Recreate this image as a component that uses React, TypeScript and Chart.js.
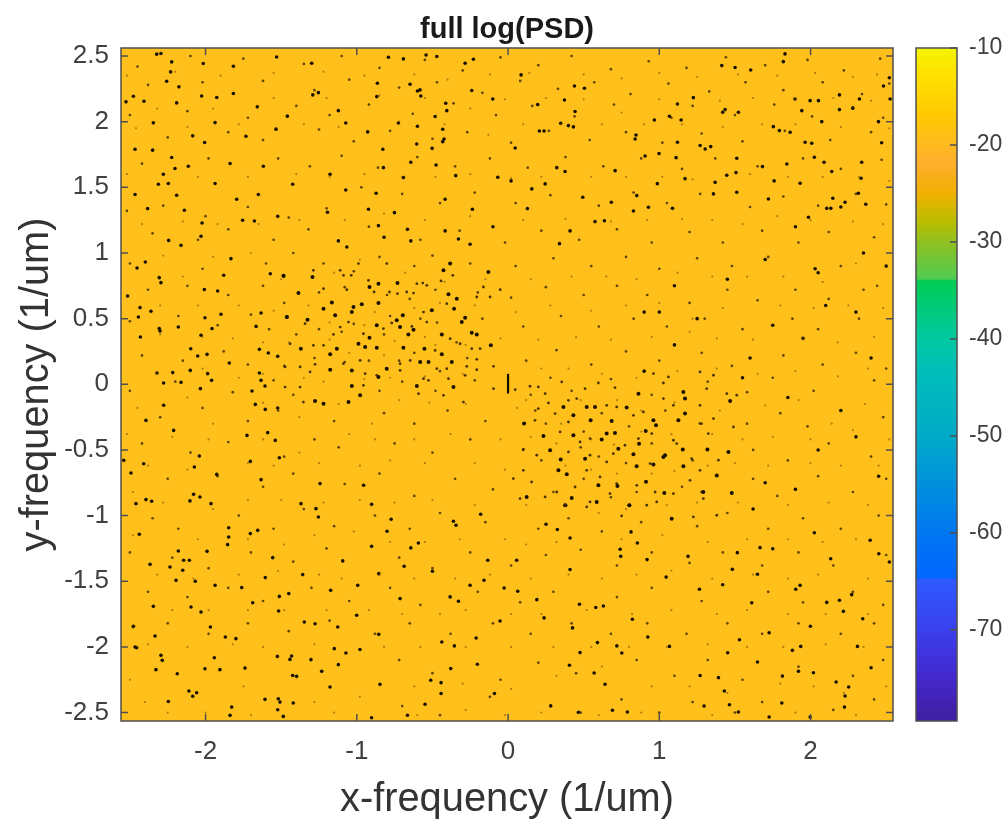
import React, { useEffect, useRef } from "react";
import { Chart, registerables } from "chart.js";

Chart.register(...registerables);

const xTickValues = [-2, -1, 0, 1, 2];
const yTickValues = [-2.5, -2, -1.5, -1, -0.5, 0, 0.5, 1, 1.5, 2, 2.5];
const colorbarTicks = [-70, -60, -50, -40, -30, -20, -10];
const colorbarRange = [-79.4, -10];
const centerBar = [[0, -0.07], [0, 0.08]];

// value, colour stops of the colour bar
const colorStopValues = [-10, -13, -17, -20, -22, -25, -28, -30, -33.8, -34, -40, -43, -50, -55, -60, -64.6, -64.8, -70, -75, -79.4];
const colorStopColors = ["#f5f500", "#ffe000", "#ffc800", "#ffba20", "#ffae2c", "#f0b000", "#b8be00", "#90c020", "#50cc50", "#00cc55", "#00c8a0", "#00beb8", "#00aac8", "#0090dc", "#0076f0", "#0066ff", "#2f5aff", "#3a40ee", "#4428cc", "#3f1fa0"];

const darkLeftCluster = [[-1.165,.622],[-1.033,.551],[-1.022,.589],[-.967,.609],[-.857,.619],[-.731,.771],[-.916,.741],[-.857,.766],[-1.293,.817],[-1.485,.827],[-1.386,.695],[-1.463,.512],[-1.326,.492],[-1.22,.576],[-1.143,.525],[-1.176,.228],[-1.37,.271],[-1.132,.271],[-1.176,.111],[-1.033,.106],[-.989,.309],[-.916,.355],[-.945,.284],[-.868,.449],[-.736,.487],[-.696,.525],[-.625,.416],[-.659,.38],[-.714,.436],[-.692,.279],[-.868,.279],[-.802,.119],[-.857,.055],[-.553,.271],[-.581,.17],[-.526,.17],[-.438,.38],[-.438,.228],[-.372,.17],[-.306,.474],[-.284,.507],[-.357,.576],[-.504,.563],[-.394,.685],[-.339,.652],[-.427,.868],[-.383,.919],[-.13,.855],[-.24,.393],[-.207,.38],[-.114,.297],[-.361,-.02],[-.603,-.013],[-1.033,-.013],[-1.22,-.148],[-1.276,-.127],[-.978,-.084],[-1.055,-.135]];

const darkRightCluster = [[1.17,-.109],[1.159,-.058],[1.17,-.223],[1.126,-.274],[.961,-.274],[.91,-.355],[.978,-.312],[.685,-.279],[.784,-.177],[.862,-.071],[.619,-.421],[.729,-.49],[.866,-.452],[.546,-.274],[.432,-.236],[.432,-.388],[.278,-.502],[.348,-.573],[.234,-.393],[.106,-.299],[.366,-.172],[.52,-.172],[.575,-.172],[1.038,-.54],[1.159,-.624],[1.155,-.497],[1.318,-.497],[1.457,-.515],[1.468,-.127],[.377,-.921],[.421,-.865],[.802,-.921],[1.082,-1.023],[1.033,-.827],[.912,-.743],[.723,-.774],[.597,-.769],[.123,-.858],[1.38,-.695],[.586,-.896],[1.291,-.82],[1.479,-.827],[1.027,-.553],[.333,-.655],[.388,-.685],[.652,-.375],[.707,-.37],[.509,-.566],[.829,-.533],[.85,-.624],[.961,-.611]];

const midLeftCluster = [[-1.11,.868],[-1.088,.83],[-1.037,.83],[-1.287,.868],[-1.22,.728],[-1.066,.72],[-.989,.919],[-.923,.792],[-.802,.919],[-.603,.766],[-.564,.771],[-.67,.703],[-.625,.695],[-.731,.69],[-.784,.703],[-.886,.703],[-.537,.754],[-.443,.787],[-.365,.83],[-.163,.741],[-.052,.72],[-.207,.665],[-.119,.665],[-.405,.614],[-.559,.55],[-.537,.474],[-.636,.441],[-.769,.467],[-.824,.424],[-.956,.385],[-1.055,.474],[-1.11,.436],[-1.154,.38],[-1.22,.297],[-1.287,.297],[-1.342,.462],[-1.441,.309],[-1.474,.132],[-1.375,.132],[-1.309,.094],[-1.276,.152],[-1.088,.157],[-.978,.182],[-.945,.081],[-.868,.068],[-.714,.106],[-.647,.182],[-.714,.157],[-.482,.258],[-.383,.347],[-.317,.309],[-.24,.271],[-.185,.271],[-.207,.19],[-.273,.137],[-.207,.111],[-.096,.137],[-.394,.043],[-.284,.068],[-.471,.119],[-.405,.119],[-.526,.03],[-.559,.043],[-.956,-.008],[-1.375,-.021],[-1.474,-.021],[-1.353,-.135],[-.592,-.071],[-.427,-.084],[-.295,-.135],[-.096,-.033],[.047,-.041]];

const midRightCluster = [[.145,-.015],[.2,-.02],[.245,-.071],[.355,.018],[.509,-.033],[.597,.01],[.707,-.025],[1.027,.01],[1.06,.056],[.961,.082],[1.269,.094],[1.358,.069],[1.446,-.071],[1.512,-.083],[1.313,-.033],[1.269,-.16],[1.093,-.16],[1.027,-.109],[.895,-.21],[.829,-.236],[.718,-.172],[.652,-.16],[.454,-.109],[.399,-.122],[.267,-.142],[.2,-.185],[.178,-.274],[.311,-.223],[.399,-.287],[.344,-.363],[.542,-.413],[.476,-.439],[.399,-.515],[.542,-.54],[.652,-.591],[.608,-.705],[.52,-.655],[.443,-.782],[.322,-.82],[.245,-.858],[.079,-.87],[.035,-.718],[.101,-.655],[.156,-.744],[.19,-.54],[.101,-.495],[.718,-.756],[.851,-.769],[.972,-.82],[1.093,-.832],[1.203,-.731],[1.269,-.655],[1.391,-.578],[1.269,-.299],[1.358,-.261],[1.49,-.325],[1.324,-.375],[1.093,-.426],[.95,-.375],[.862,-.413],[.773,-.464],[.696,-.528],[.939,-.604],[1.115,-.451],[1.214,-.566],[.542,-.896],[.52,-.934],[.674,-.832],[.917,-.921],[.983,-.896],[1.28,-.82],[1.291,-.87],[1.225,-1.01],[1.38,-.997],[.751,-1.002]];

const darkUpperLeft = [[-1.53,2.493],[-2.407,2.156],[-1.816,2.214],[-2.026,2.196],[-1.658,2.113],[-1.926,2.184],[-2.176,2.265],[-2.257,2.308],[-2.231,2.379],[-2.224,2.455],[-2.323,2.514],[-2.295,2.519],[-1.816,2.422],[-2.015,2.443],[-2.466,1.79],[-2.35,1.783],[-2.224,1.727],[-1.733,1.889],[-1.937,1.993],[-1.534,1.943],[-1.459,2.042],[-2.006,1.841],[-2.526,2.151],[-2.477,2.194],[-2.191,2.143],[-2.345,1.991],[-2.085,1.892],[-2.279,1.6],[-2.246,1.529],[-1.937,1.529],[-1.651,1.445],[-1.424,1.524],[-2.114,1.661],[-2.202,1.643],[-1.838,1.681],[-1.618,1.661],[-2.312,1.524],[-2.466,1.445],[-1.794,1.409],[-2.191,1.44]];

const darkUpperRight = [[1.831,2.516],[1.82,2.457],[1.413,2.427],[1.501,2.412],[1.604,2.394],[1.225,2.183],[1.12,2.135],[1.523,2.072],[1.435,2.092],[1.419,2.072],[1.067,2.041],[1.144,2.013],[.967,2.013],[.846,1.899],[.84,1.868],[1.27,1.818],[1.34,1.81],[1.303,1.792],[1.12,1.843],[.998,1.757],[.906,1.739],[1.111,1.726],[1.512,1.721],[1.682,1.658],[1.507,1.612],[1.446,1.592],[1.369,1.538],[1.17,1.566],[.987,1.528],[1.358,1.45],[1.512,1.462],[1.087,1.34],[.851,1.437],[.928,1.348],[.829,1.32],[1.897,2.173],[1.997,2.16],[2.052,2.16],[1.942,2.084],[2.279,2.102],[2.191,2.092],[2.191,2.204],[1.754,1.962],[1.794,1.932],[1.865,1.919],[1.964,1.843],[2.008,1.836],[2.074,2.0],[2.449,2.0],[2.47,1.84],[2.025,1.729],[2.089,1.691],[1.843,1.678],[1.759,1.549],[1.931,1.531],[2.14,1.62],[2.338,1.691],[2.334,1.569],[2.147,1.417],[2.228,1.386],[2.365,1.371],[2.107,1.34],[2.134,1.34],[2.316,1.455],[1.986,1.272],[1.721,1.411],[2.526,2.173],[2.482,2.272],[2.521,2.335],[2.323,2.173]];

const darkUpperCentre = [[-.692,2.478],[-.471,2.496],[-.542,2.508],[-.791,2.49],[-.284,2.445],[-.229,2.475],[-1.298,2.445],[-.648,2.285],[-.577,2.196],[-.599,2.234],[-.582,2.242],[-.864,2.292],[-.868,2.191],[-1.254,2.221],[-1.291,2.204],[-.24,2.237],[-.101,2.173],[-.412,2.14],[-.405,2.084],[-1.122,2.084],[-1.073,1.99],[-.928,1.922],[-.599,1.965],[-.725,1.99],[-.482,2.039],[-.432,1.942],[-.423,1.868],[-.432,1.848],[-.604,1.83],[-.502,1.797],[-.828,1.79],[.047,1.8],[.086,2.356],[.196,2.13],[.373,2.165],[.439,2.272],[.443,2.077],[.505,2.254],[.348,1.988],[.399,1.97],[.432,1.96],[.207,1.929],[.238,1.929],[.708,1.627],[.377,1.62],[.322,1.65],[.245,1.526],[.157,1.488],[.494,1.424],[.683,1.386],[-.643,1.691],[-.476,1.67],[-.346,1.589],[.02,1.549],[-.068,1.577],[-.416,1.409],[-.236,1.333],[-.751,1.307],[-.923,1.333],[-1.194,1.31],[-.857,1.208],[-.665,1.18],[-.416,1.168],[-.328,1.107],[-.82,1.12],[-.643,1.092],[-1.122,1.092],[-1.066,1.046],[-.251,1.066],[.34,1.071],[.41,1.168],[.128,1.338],[.637,1.246],[.575,1.239],[-1.177,1.6],[-.824,1.65],[-.692,1.574],[-.872,1.455],[-1.073,1.48]];

const darkLeftMiddle = [[-2.383,1.338],[-2.14,1.325],[-2.03,1.127],[-2.244,1.096],[-2.162,1.058],[-2.023,1.228],[-1.677,1.244],[-1.755,1.249],[-1.523,1.279],[-1.832,.957],[-2.398,.931],[-2.453,.886],[-2.295,.774],[-2.306,.812],[-1.88,.83],[-1.572,.842],[-1.483,.825],[-2.008,.721],[-1.92,.711],[-2.515,.672],[-2.433,.584],[-2.361,.556],[-2.444,.512],[-2.004,.507],[-1.898,.533],[-1.633,.543],[-1.461,.512],[-2.306,.424],[-2.301,.406],[-2.18,.436],[-1.957,.424],[-1.666,.441],[-2.431,.36],[-2.03,.373],[-1.99,.228],[-2.098,.271],[-2.052,.215],[-1.843,.162],[-1.644,.266],[-1.585,.238],[-1.523,.213],[-2.321,.086],[-2.217,.089],[-2.101,.106],[-1.986,.081],[-1.644,.086],[-2.277,.01],[-2.162,.015],[-1.96,.03],[-1.633,.03],[-1.607,-.013],[-2.034,-.033],[-1.693,-.051],[-2.277,-.16],[-1.671,-.153],[-1.523,-.181],[-1.605,-.191],[-2.394,-.275],[-2.211,-.351],[-1.726,-.389],[-1.589,-.368],[-1.539,-.427],[-2.041,-.546],[-2.409,-.605],[-2.074,-.63],[-1.926,-.686],[-1.633,-.726],[-2.541,-.579],[-2.493,-.676],[-1.512,-.559],[-1.704,-.587]];

const darkLowerLeft = [[-2.46,-.909],[-2.394,-.878],[-2.356,-.891],[-2.079,-.838],[-2.103,-.888],[-1.964,-.909],[-2.037,-.858],[-1.369,-.909],[-1.27,-.947],[-1.254,-1.01],[-.902,-.914],[-.955,-.769],[-1.243,-.756],[-2.438,-1.142],[-1.99,-1.272],[-2.18,-1.269],[-2.145,-1.34],[-2.107,-1.34],[-2.367,-1.371],[-2.235,-1.391],[-2.151,-1.416],[-1.854,-1.221],[-1.847,-1.163],[-1.847,-1.092],[-1.704,-1.137],[-1.655,-1.112],[-1.556,-1.32],[-1.093,-1.345],[-.902,-1.234],[-.8,-1.119],[-.855,-1.442],[-1.358,-1.449],[-1.45,-1.594],[-1.512,-1.615],[-1.605,-1.472],[-1.688,-1.663],[-1.517,-1.726],[-1.347,-1.81],[-1.276,-1.823],[-1.001,-1.759],[-1.126,-1.848],[-.855,-1.904],[-1.968,-1.848],[-2.03,-1.734],[-2.096,-1.696],[-2.345,-1.691],[-2.195,-1.493],[-2.068,-1.5],[-1.937,-1.531],[-1.761,-1.548],[-1.173,-1.569],[-.994,-1.531],[-2.477,-1.843],[-1.799,-1.937],[-2.466,-2.0],[-1.869,-1.924],[-2.334,-1.917],[-1.122,-2.135],[-1.232,-2.186],[-1.525,-2.072],[-1.442,-2.095],[-1.431,-2.069],[-1.905,-2.173],[-2.004,-2.166],[-1.942,-2.082],[-2.187,-2.204],[-2.286,-2.102],[-2.295,-2.064],[-2.328,-2.173],[-2.456,-2.006],[-1.177,-2.305],[-1.42,-2.427],[-1.607,-2.399],[-1.519,-2.394],[-1.508,-2.42],[-1.523,-2.478],[-1.827,-2.458],[-1.838,-2.521],[-2.085,-2.376],[-2.059,-2.349],[-2.11,-2.336],[-2.246,-2.415],[-1.486,-2.529],[-.902,-2.539],[-.847,-2.285],[-1.739,-2.161],[-.979,-2.019],[-1.149,-2.013],[-1.072,-2.046],[-1.303,-2.097],[-1.398,-2.224],[-1.424,-2.217]];

const darkLowerCentre = [[.381,-.921],[-.344,-1.073],[-.361,-1.043],[-.181,-.99],[.251,-1.066],[.326,-1.106],[.41,-1.17],[.855,-1.208],[.813,-1.124],[.802,-.921],[-.773,-1.028],[-.643,-1.246],[-.593,-1.208],[-.5,-1.424],[-.687,-1.386],[.41,-1.411],[-.134,-1.34],[.057,-1.34],[-.159,-1.492],[-.251,-1.53],[-.383,-1.619],[-.328,-1.652],[-.714,-1.632],[-.026,-1.551],[.064,-1.576],[-.053,-1.802],[.472,-1.675],[.63,-1.688],[.58,-1.7],[.19,-1.64],[.238,-1.779],[.822,-1.789],[.426,-1.855],[.591,-1.967],[-.211,-1.932],[-.438,-1.962],[-.355,-1.992],[.719,-1.992],[.752,-2.046],[.476,-2.043],[.924,-1.924],[.406,-2.14],[-.379,-2.165],[-.203,-2.132],[.569,-2.198],[.641,-2.284],[-.443,-2.272],[-.511,-2.254],[-.443,-2.355],[-.09,-2.355],[.282,-2.449],[.465,-2.498],[.69,-2.482],[.789,-2.495],[-.665,-2.52],[-.549,-2.437],[.919,-1.335],[.745,-1.31],[.741,-1.256]];

const darkLowerRight = [[2.025,-1.13],[1.516,-1.282],[2.133,-1.328],[1.666,-1.244],[1.75,-1.252],[1.483,-1.409],[1.649,-1.447],[1.419,-1.526],[1.931,-1.531],[1.902,-1.561],[1.611,-1.663],[2.107,-1.661],[2.272,-1.602],[2.191,-1.645],[2.217,-1.729],[2.345,-1.785],[1.999,-1.843],[1.726,-1.892],[1.53,-1.945],[1.067,-1.996],[1.452,-2.044],[1.935,-1.996],[1.88,-2.026],[1.649,-2.115],[1.814,-2.222],[2.019,-2.196],[1.92,-2.186],[2.4,-2.158],[2.169,-2.267],[2.252,-2.305],[2.228,-2.374],[1.81,-2.427],[1.523,-2.496],[1.296,-2.45],[1.997,-2.534],[1.27,-2.217],[1.391,-2.234],[1.43,-2.336],[1.045,-1.468],[1.265,-1.561],[1.19,-1.31],[2.394,-1.188],[2.451,-1.29],[2.521,-1.353],[2.31,-1.996],[2.224,-2.458],[1.726,-2.534],[1.464,-2.44]];

const darkRightMiddle = [[1.9,-.8],[2.3,-.4],[2.2,-.2],[2.4,.2],[2.5,.9],[2.03,.88],[2.05,.85],[1.9,1.2],[1.1,.75],[1.0,.55],[.9,.55],[1.1,.3],[.9,.1],[1.6,.2],[1.75,.45],[2.2,1.35],[2.35,1.0],[-.1,1.2],[1.7,.95],[1.45,.8],[1.25,.5],[1.55,.05],[1.85,-.1],[2.1,.6],[2.3,.55],[1.95,.35],[2.45,-.7],[2.05,-.5],[1.7,-.75],[1.62,-.95]];

const midPoints = [[-2.45,2.42],[-2.1,2.5],[-1.75,2.48],[-1.35,2.44],[-1.1,2.5],[-.85,2.41],[-.55,2.47],[-.3,2.39],[-.05,2.49],[.2,2.43],[.42,2.5],[.68,2.4],[.93,2.46],[1.18,2.41],[1.44,2.49],[1.7,2.43],[1.98,2.47],[2.22,2.39],[2.46,2.48],[-2.38,2.28],[-2.02,2.3],[-1.62,2.31],[-1.28,2.24],[-1.05,2.32],[-.72,2.26],[-.47,2.3],[-.17,2.22],[.08,2.31],[.33,2.25],[.57,2.3],[.81,2.21],[1.06,2.29],[1.33,2.23],[1.57,2.3],[1.82,2.24],[2.08,2.3],[2.34,2.21],[2.52,2.29],[-2.5,2.05],[-2.12,2.08],[-1.72,2.03],[-1.4,2.12],[-1.18,2.05],[-.92,2.13],[-.63,2.06],[-.36,2.14],[-.08,2.05],[.16,2.12],[.44,2.04],[.7,2.13],[1.08,2.03],[1.22,2.12],[1.5,2.05],[1.76,2.13],[2.01,2.04],[2.28,2.11],[2.48,2.03],[-2.25,1.88],[-1.85,1.92],[-1.62,1.86],[-1.25,1.94],[-1.02,1.85],[-.78,1.93],[-.5,1.87],[-.27,1.92],[.02,1.84],[.27,1.93],[.54,1.86],[.78,1.92],[1.02,1.84],[1.28,1.91],[1.55,1.85],[1.83,1.93],[2.13,1.86],[2.4,1.92],[-2.42,1.68],[-1.98,1.72],[-1.52,1.72],[-1.31,1.66],[-1.1,1.74],[-.86,1.65],[-.6,1.73],[-.35,1.66],[-.12,1.72],[.13,1.65],[.38,1.73],[.63,1.66],[.88,1.72],[1.15,1.64],[1.37,1.72],[1.65,1.66],[1.95,1.72],[2.2,1.64],[2.47,1.71],[-2.52,1.32],[-2.28,1.36],[-2.0,1.28],[-1.72,1.35],[-1.45,1.27],[-1.2,1.34],[-.97,1.5],[-.7,1.45],[-.45,1.38],[-.22,1.46],[.05,1.38],[.28,1.44],[.6,1.36],[.83,1.46],[1.05,1.38],[1.27,1.45],[1.6,1.35],[1.82,1.43],[2.05,1.36],[2.3,1.45],[2.5,1.37],[-2.35,1.15],[-2.05,1.1],[-1.85,1.18],[-1.55,1.1],[-1.32,1.18],[-.92,1.2],[-.58,1.1],[-.32,1.17],[-.02,1.08],[.22,1.17],[.47,1.1],[.72,1.18],[.95,1.08],[1.2,1.16],[1.42,1.08],[1.68,1.17],[1.92,1.08],[2.12,1.16],[2.42,1.12],[-2.5,.92],[-2.02,.88],[-1.6,.92],[-1.42,1.0],[-1.22,.92],[-1.02,.86],[-.85,.97],[-.62,.9],[-.5,.98],[-.25,.92],[.05,.9],[.3,.96],[.55,.9],[.78,.97],[1.0,.88],[1.25,.96],[1.48,.9],[1.72,.97],[2.2,.9],[2.44,.75],[-2.38,.72],[-2.12,.75],[-1.85,.68],[-1.62,.75],[-1.48,.62],[-1.25,.7],[-1.08,.74],[-.8,.68],[-.65,.65],[-.48,.72],[-.2,.7],[.02,.66],[.25,.74],[.5,.68],[.72,.75],[.92,.68],[1.2,.62],[1.45,.72],[1.65,.64],[1.9,.72],[2.12,.65],[2.35,.72],[-2.5,.48],[-2.18,.52],[-1.92,.45],[-1.7,.53],[-1.58,.42],[-1.4,.38],[-1.25,.42],[-1.1,.4],[-1.02,.46],[-.82,.38],[-.78,.52],[-.58,.5],[-.47,.47],[-.34,.32],[-.17,.5],[.1,.44],[.35,.52],[.6,.44],[.83,.5],[1.05,.44],[1.3,.5],[1.55,.42],[1.88,.5],[2.05,.42],[2.32,.5],[-2.42,.22],[-2.15,.18],[-1.88,.25],[-1.72,.15],[-1.48,.14],[-1.28,.2],[-1.08,.17],[-.92,.18],[-.72,.18],[-.62,.24],[-.45,.1],[-.27,.2],[.12,.18],[.32,.26],[.55,.15],[.78,.25],[1.0,.18],[1.28,.24],[1.48,.14],[1.82,.22],[2.08,.15],[2.3,.24],[2.5,.12],[-2.5,-.05],[-2.2,.02],[-1.82,-.06],[-1.55,.03],[-1.42,-.08],[-.85,-.05],[-.7,.02],[-.48,-.05],[-.22,.03],[.15,-.08],[.28,.05],[.42,-.05],[.68,.04],[.95,-.08],[1.32,.02],[1.58,-.06],[1.75,.05],[2.02,-.05],[2.42,.03],[-2.3,-.25],[-2.02,-.18],[-1.72,-.28],[-1.52,-.2],[-1.15,-.28],[-.82,-.22],[-.62,-.3],[-.4,-.2],[-.15,-.28],[.18,-.2],[.25,-.3],[.5,-.36],[.62,-.22],[.8,-.32],[1.04,-.2],[1.28,-.3],[1.58,-.3],[1.8,-.22],[1.98,-.32],[2.48,-.25],[-2.42,-.45],[-2.1,-.52],[-1.85,-.44],[-1.48,-.55],[-1.28,-.42],[-1.12,-.48],[-.75,-.45],[-.5,-.52],[-.25,-.42],[.1,-.5],[.22,-.58],[.48,-.48],[.6,-.55],[.78,-.6],[.95,-.45],[1.22,-.58],[1.62,-.5],[1.85,-.58],[2.12,-.45],[2.4,-.55],[-2.25,-.72],[-1.92,-.7],[-1.62,-.78],[-1.42,-.68],[-1.08,-.76],[-.85,-.68],[-.62,-.85],[-.35,-.72],[-.1,-.8],[.3,-.82],[.5,-.72],[.68,-.86],[.85,-.82],[1.15,-.78],[1.62,-.72],[1.78,-.85],[2.05,-.7],[2.28,-.82],[2.5,-.72],[-2.35,-1.02],[-2.18,-1.1],[-1.78,-1.0],[-1.55,-1.1],[-1.35,-.95],[-1.15,-1.08],[-.88,-1.0],[-.65,-1.1],[-.45,-.98],[-.15,-1.05],[.2,-1.1],[.4,-1.02],[.62,-1.12],[.88,-1.05],[1.25,-1.08],[1.45,-.98],[1.72,-1.1],[1.95,-1.02],[2.2,-1.1],[2.45,-1.0],[-2.5,-1.28],[-2.22,-1.32],[-1.98,-1.4],[-1.7,-1.28],[-1.42,-1.35],[-1.2,-1.25],[-.72,-1.32],[-.5,-1.4],[-.25,-1.28],[.02,-1.38],[.25,-1.3],[.48,-1.26],[.72,-1.38],[.95,-1.28],[1.2,-1.36],[1.42,-1.28],[1.68,-1.38],[1.92,-1.28],[2.15,-1.38],[2.5,-1.3],[-2.38,-1.58],[-2.12,-1.62],[-1.85,-1.55],[-1.62,-1.65],[-1.3,-1.55],[-1.05,-1.65],[-.78,-1.55],[-.58,-1.68],[-.2,-1.58],[.08,-1.66],[.3,-1.58],[.72,-1.62],[.95,-1.55],[1.28,-1.65],[1.72,-1.58],[1.95,-1.66],[2.28,-1.58],[2.48,-1.68],[-2.48,-1.85],[-2.25,-1.82],[-1.98,-1.9],[-1.72,-1.82],[-1.45,-1.88],[-1.18,-1.8],[-.88,-1.9],[-.65,-1.82],[-.38,-1.9],[-.1,-1.82],[.15,-1.9],[.42,-1.82],[.68,-1.9],[.92,-1.82],[1.18,-1.9],[1.45,-1.82],[1.68,-1.9],[1.92,-1.82],[2.2,-1.9],[2.42,-1.82],[-.72,-2.1],[-.5,-2.2],[-.05,-2.25],[.2,-2.12],[.45,-2.2],[.85,-2.1],[1.1,-2.22],[1.32,-2.1],[1.55,-2.25],[1.92,-2.15],[2.28,-2.22],[2.48,-2.1],[-.7,-2.45],[-.45,-2.52],[-.12,-2.38],[.48,-2.5],[.75,-2.4],[1.0,-2.5],[1.22,-2.42],[1.5,-2.5],[1.68,-2.42],[2.15,-2.48],[2.42,-2.4]];

const faintPoints = [[-2.52,2.35],[-2.2,2.38],[-1.9,2.35],[-1.55,2.37],[-1.22,2.38],[-.95,2.35],[-.62,2.36],[-.4,2.32],[-.12,2.36],[.14,2.37],[.5,2.36],[.75,2.33],[1.0,2.37],[1.25,2.34],[1.52,2.36],[1.78,2.35],[2.03,2.37],[2.28,2.34],[2.44,2.36],[-2.32,2.1],[-1.95,2.1],[-1.55,2.18],[-1.2,2.18],[-.85,2.2],[-.55,2.18],[-.25,2.1],[-.02,2.17],[.25,2.18],[.5,2.17],[.75,2.07],[1.0,2.17],[1.4,2.16],[1.62,2.18],[1.9,2.17],[2.15,2.18],[2.4,2.16],[-2.46,1.95],[-2.12,1.96],[-1.78,1.98],[-1.35,1.98],[-1.12,1.96],[-.72,2.0],[-.42,1.98],[-.13,1.9],[.1,1.98],[.35,1.98],[.62,1.98],[.9,1.98],[1.15,1.98],[1.42,1.96],[1.68,1.98],[1.9,1.98],[2.2,1.96],[2.52,1.95],[-2.52,1.6],[-2.05,1.58],[-1.72,1.58],[-1.4,1.6],[-1.18,1.58],[-.95,1.6],[-.7,1.58],[-.48,1.58],[-.25,1.6],[.02,1.57],[.22,1.58],[.55,1.58],[.78,1.58],[1.02,1.58],[1.22,1.56],[1.6,1.6],[1.85,1.58],[2.08,1.58],[2.32,1.58],[2.52,1.55],[-2.42,1.22],[-2.15,1.24],[-1.92,1.22],[-1.65,1.22],[-1.38,1.25],[-1.08,1.25],[-.82,1.3],[-.55,1.25],[-.25,1.28],[.1,1.25],[.38,1.26],[.68,1.24],[.92,1.25],[1.15,1.26],[1.35,1.25],[1.55,1.22],[1.78,1.28],[2.0,1.25],[2.28,1.24],[2.48,1.22],[-2.28,.98],[-2.15,.82],[-1.95,.97],[-1.7,1.0],[-1.5,.8],[-1.15,.85],[-.98,.95],[-.68,.85],[-.42,.78],[-.15,.8],[.15,.8],[.42,.82],[.65,.82],[.85,.8],[1.12,.85],[1.35,.82],[1.58,.82],[1.82,.82],[2.08,.78],[2.3,.92],[-2.3,.6],[-2.05,.6],[-1.78,.6],[-1.55,.56],[-1.32,.6],[-1.18,.47],[-.95,.45],[-.88,.55],[-.62,.58],[-.45,.62],[-.22,.6],[.05,.55],[.28,.6],[.55,.56],[.78,.6],[1.0,.62],[1.22,.5],[1.42,.58],[1.8,.6],[2.02,.58],[2.25,.6],[2.48,.58],[-2.3,.38],[-2.02,.36],[-1.82,.35],[-1.62,.32],[-1.45,.32],[-1.18,.34],[-1.05,.24],[-.82,.22],[-.75,.33],[-.55,.36],[-.48,.3],[-.28,.3],[-.05,.35],[.2,.34],[.45,.36],[.68,.34],[.95,.36],[1.2,.4],[1.38,.35],[1.62,.34],[1.95,.35],[2.18,.32],[2.42,.36],[-2.32,.08],[-2.02,.12],[-1.78,.05],[-1.62,.08],[-1.35,.05],[-1.22,.02],[-.95,.04],[-.78,.05],[-.55,.06],[-.3,.08],[.22,.12],[.4,.12],[.62,.08],[.85,.05],[1.12,.1],[1.38,.12],[1.65,.08],[1.9,.1],[2.18,.06],[2.38,.12],[-2.45,-.18],[-2.12,-.1],[-1.95,-.3],[-1.62,-.14],[-1.38,-.25],[-1.12,-.15],[-.9,-.3],[-.72,-.12],[-.52,-.14],[-.28,-.15],[.06,-.18],[.12,-.12],[.35,-.3],[.48,-.12],[.72,-.12],[.88,-.2],[1.1,-.14],[1.4,-.2],[1.7,-.16],[1.92,-.12],[2.14,-.3],[2.36,-.15],[-2.52,-.38],[-2.22,-.4],[-1.98,-.42],[-1.62,-.42],[-1.38,-.52],[-1.05,-.38],[-.88,-.42],[-.62,-.42],[-.38,-.38],[-.05,-.42],[.15,-.4],[.32,-.45],[.55,-.42],[.7,-.46],[.88,-.36],[1.08,-.38],[1.35,-.38],[1.55,-.42],[1.75,-.4],[2.0,-.42],[2.28,-.35],[2.52,-.42],[-2.38,-.62],[-2.12,-.65],[-1.72,-.6],[-1.55,-.62],[-1.25,-.6],[-.98,-.62],[-.78,-.58],[-.55,-.6],[-.22,-.6],[-.02,-.65],[.38,-.62],[.55,-.65],[.72,-.68],[.95,-.68],[1.1,-.66],[1.32,-.62],[1.5,-.6],[1.72,-.62],[2.0,-.6],[2.2,-.62],[2.45,-.62],[-2.48,-.82],[-2.28,-.9],[-1.95,-.95],[-1.72,-.88],[-1.5,-.88],[-1.22,-.9],[-.98,-.88],[-.75,-.9],[-.5,-.88],[-.22,-.92],[.12,-.92],[.38,-.92],[.6,-.98],[.78,-.95],[1.05,-.92],[1.25,-.9],[1.52,-.9],[1.85,-.92],[2.12,-.9],[2.38,-.92],[-2.48,-1.15],[-2.05,-1.18],[-1.72,-1.18],[-1.48,-1.22],[-1.28,-1.15],[-1.02,-1.12],[-.78,-1.2],[-.55,-1.2],[-.32,-1.18],[-.02,-1.18],[.12,-1.22],[.32,-1.2],[.75,-1.18],[1.02,-1.15],[1.32,-1.2],[1.58,-1.18],[1.85,-1.18],[2.08,-1.2],[2.3,-1.18],[-2.32,-1.45],[-2.08,-1.48],[-1.78,-1.45],[-1.52,-1.42],[-1.25,-1.45],[-1.1,-1.48],[-.85,-1.45],[-.62,-1.48],[-.35,-1.48],[-.12,-1.45],[.15,-1.48],[.4,-1.45],[.62,-1.48],[.85,-1.45],[1.08,-1.42],[1.35,-1.48],[1.62,-1.45],[1.85,-1.48],[2.05,-1.45],[2.38,-1.48],[-2.22,-1.72],[-1.98,-1.72],[-1.72,-1.72],[-1.48,-1.72],[-1.2,-1.72],[-.92,-1.72],[-.7,-1.75],[-.45,-1.75],[-.28,-1.72],[.02,-1.75],[.22,-1.75],[.52,-1.72],[.82,-1.75],[1.08,-1.72],[1.38,-1.75],[1.58,-1.72],[1.85,-1.75],[2.1,-1.75],[2.38,-1.75],[-2.38,-1.98],[-2.12,-2.0],[-1.82,-1.98],[-1.62,-2.0],[-1.28,-1.98],[-.82,-2.0],[-.58,-2.0],[-.28,-2.0],[.02,-2.0],[.3,-2.0],[.55,-2.0],[.8,-2.0],[1.05,-2.0],[1.32,-1.98],[1.58,-2.0],[1.82,-2.0],[2.1,-1.98],[2.35,-2.0],[-2.5,-2.25],[-2.4,-2.42],[-1.75,-2.3],[-1.28,-2.42],[-.98,-2.38],[-.62,-2.3],[-.3,-2.28],[.02,-2.32],[.32,-2.22],[.62,-2.15],[.95,-2.3],[1.2,-2.3],[1.45,-2.35],[1.8,-2.28],[2.02,-2.3],[2.22,-2.35],[2.5,-2.3],[-2.25,-2.5],[-2.0,-2.5],[-1.7,-2.52],[-1.15,-2.5],[-.6,-2.52],[-.28,-2.48],[-.02,-2.52],[.22,-2.5],[.6,-2.52],[.88,-2.5],[1.35,-2.52],[1.9,-2.5],[2.3,-2.52]];

const toXY = (pairs: number[][]) => pairs.map(([x, y]) => ({ x, y }));

const FRAME = "#4f4f4f";

function frameAndTicks(sides: string[], length: number, xId?: string, yId = "y") {
  return {
    id: "frameAndTicks",
    afterDraw(chart: any) {
      const { ctx, chartArea: a } = chart;
      ctx.save();
      ctx.strokeStyle = FRAME;
      ctx.lineWidth = 1.5;
      ctx.strokeRect(a.left, a.top, a.right - a.left, a.bottom - a.top);
      ctx.beginPath();
      if (xId) {
        chart.scales[xId].ticks.forEach((t: any) => {
          const p = chart.scales[xId].getPixelForValue(t.value);
          ctx.moveTo(p, a.bottom); ctx.lineTo(p, a.bottom - length);
          ctx.moveTo(p, a.top); ctx.lineTo(p, a.top + length);
        });
      }
      chart.scales[yId].ticks.forEach((t: any) => {
        const p = chart.scales[yId].getPixelForValue(t.value);
        if (sides.includes("left")) { ctx.moveTo(a.left, p); ctx.lineTo(a.left + length, p); }
        if (sides.includes("right")) { ctx.moveTo(a.right, p); ctx.lineTo(a.right - length, p); }
      });
      ctx.stroke();
      ctx.restore();
    },
  };
}

const plotBackground = {
  id: "plotBackground",
  beforeDatasetsDraw(chart: any) {
    const { ctx, chartArea: a } = chart;
    ctx.save();
    ctx.fillStyle = "#ffc01c";
    ctx.fillRect(a.left, a.top, a.right - a.left, a.bottom - a.top);
    ctx.restore();
  },
};

const TICK_COLOR = "#404040";
const FONT = "'Liberation Sans', Arial, sans-serif";
const DARK = "#1a1000";

export default function App() {
  const mainRef = useRef<HTMLCanvasElement>(null);
  const barRef = useRef<HTMLCanvasElement>(null);

  useEffect(() => {
    const dotSet = (label: string, pairs: number[][], color: string, r: number) => ({
      label, data: toXY(pairs), pointRadius: r, pointBackgroundColor: color, pointBorderWidth: 0, showLine: false,
    });
    const main = new Chart(mainRef.current!, {
      type: "scatter",
      data: {
        datasets: [
          dotSet("faint", faintPoints, "rgba(120,80,0,0.6)", 1.1),
          dotSet("mid", midPoints, "rgba(60,38,0,0.8)", 1.35),
          dotSet("midLeft", midLeftCluster, "rgba(45,28,0,0.85)", 1.4),
          dotSet("midRight", midRightCluster, "rgba(45,28,0,0.85)", 1.4),
          dotSet("upperLeft", darkUpperLeft, DARK, 1.8),
          dotSet("upperCentre", darkUpperCentre, DARK, 1.8),
          dotSet("upperRight", darkUpperRight, DARK, 1.8),
          dotSet("leftMiddle", darkLeftMiddle, DARK, 1.8),
          dotSet("rightMiddle", darkRightMiddle, DARK, 1.8),
          dotSet("lowerLeft", darkLowerLeft, DARK, 1.8),
          dotSet("lowerCentre", darkLowerCentre, DARK, 1.8),
          dotSet("lowerRight", darkLowerRight, DARK, 1.8),
          dotSet("left", darkLeftCluster, DARK, 2),
          dotSet("right", darkRightCluster, DARK, 2),
          { label: "centre", data: toXY(centerBar), showLine: true, pointRadius: 0, borderColor: DARK, borderWidth: 2.2 },
        ],
      },
      options: {
        animation: false,
        responsive: false,
        layout: { padding: { left: 0, right: 114, top: 0, bottom: 0 } },
        plugins: {
          legend: { display: false },
          tooltip: { enabled: false },
          title: {
            display: true,
            fullSize: false,
            text: "full log(PSD)",
            color: "#1a1a1a",
            font: { family: FONT, size: 29, weight: "bold", lineHeight: 1.2 },
            padding: { top: 12.5, bottom: 0.7 },
          },
        },
        scales: {
          x: {
            type: "linear",
            min: -2.559,
            max: 2.545,
            grid: { display: false },
            border: { display: false },
            afterBuildTicks: (s: any) => { s.ticks = xTickValues.map((value) => ({ value })); },
            afterFit: (s: any) => { s.height = 100; },
            ticks: { color: TICK_COLOR, font: { family: FONT, size: 26 }, padding: 7, maxRotation: 0, callback: (v: any) => String(v) },
            title: { display: true, text: "x-frequency (1/um)", color: "#333333", font: { family: FONT, size: 39.8, lineHeight: 1 }, padding: { top: 0, bottom: 1 } },
          },
          y: {
            type: "linear",
            min: -2.564,
            max: 2.561,
            grid: { display: false },
            border: { display: false },
            afterBuildTicks: (s: any) => { s.ticks = yTickValues.map((value) => ({ value })); },
            afterFit: (s: any) => { s.width = 121; },
            ticks: { color: TICK_COLOR, font: { family: FONT, size: 26 }, padding: 4, callback: (v: any) => String(v) },
            title: { display: true, text: "y-frequency (1/um)", color: "#333333", font: { family: FONT, size: 39.8, lineHeight: 1 }, padding: { top: 17, bottom: 0 } },
          },
        },
      },
      plugins: [plotBackground, frameAndTicks(["left", "right"], 7, "x")],
    } as any);

    const bar = new Chart(barRef.current!, {
      type: "bar",
      data: {
        labels: ["log(PSD)"],
        datasets: [{
          data: [colorbarRange],
          barPercentage: 1,
          categoryPercentage: 1,
          borderWidth: 0,
          backgroundColor: (c: any) => {
            const { chartArea: a, scales } = c.chart;
            if (!a) return colorStopColors[0];
            const y = scales.y;
            const g = c.chart.ctx.createLinearGradient(0, a.top, 0, a.bottom);
            colorStopValues.forEach((v, i) => {
              const f = (y.getPixelForValue(v) - a.top) / (a.bottom - a.top);
              g.addColorStop(Math.min(1, Math.max(0, f)), colorStopColors[i]);
            });
            return g;
          },
        }],
      },
      options: {
        animation: false,
        responsive: false,
        layout: { padding: { left: 16, right: 0, top: 48, bottom: 100 } },
        plugins: { legend: { display: false }, tooltip: { enabled: false } },
        scales: {
          x: { display: false },
          y: {
            position: "right",
            min: colorbarRange[0],
            max: colorbarRange[1],
            grid: { display: false },
            border: { display: false },
            afterBuildTicks: (s: any) => { s.ticks = colorbarTicks.map((value) => ({ value })); },
            afterFit: (s: any) => { s.width = 50; },
            ticks: { color: TICK_COLOR, font: { family: FONT, size: 23 }, padding: 4, callback: (v: any) => String(v) },
          },
        },
      },
      plugins: [frameAndTicks(["right"], 7)],
    } as any);

    return () => { main.destroy(); bar.destroy(); };
  }, []);

  return (
    <div style={{ position: "fixed", left: 0, top: 0, width: 1007, height: 821, background: "#fff" }}>
      <canvas ref={mainRef} width={1007} height={821} style={{ position: "absolute", left: 0, top: 0 }} />
      <canvas ref={barRef} width={107} height={821} style={{ position: "absolute", left: 900, top: 0 }} />
    </div>
  );
}
